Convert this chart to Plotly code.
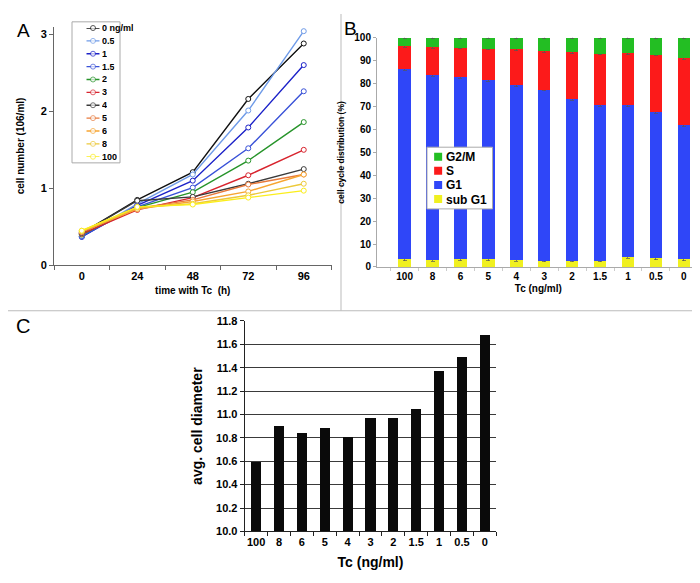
import plotly.graph_objects as go

W, H = 700, 583
def px(x): return x / W
def py(y): return 1 - y / H

FONT = "Liberation Sans, Arial, sans-serif"

# ---------------- Panel A data ----------------
times = ["0", "24", "48", "72", "96"]
doses_a = ["0 ng/ml", "0.5", "1", "1.5", "2", "3", "4", "5", "6", "8", "100"]
colors_a = ["#111111", "#6f9be8", "#1c22c8", "#3a52d8", "#27942a", "#d8242e",
            "#3a3a3a", "#e87a3c", "#f7a531", "#ecc93a", "#fbee1c"]
cells_0 = [0.42, 0.85, 1.21, 2.16, 2.88]
cells_05 = [0.37, 0.80, 1.18, 2.01, 3.04]
cells_1 = [0.37, 0.78, 1.10, 1.79, 2.60]
cells_15 = [0.38, 0.76, 1.01, 1.52, 2.26]
cells_2 = [0.40, 0.75, 0.95, 1.36, 1.86]
cells_3 = [0.41, 0.72, 0.88, 1.17, 1.50]
cells_4 = [0.42, 0.84, 0.89, 1.06, 1.25]
cells_5 = [0.43, 0.74, 0.85, 1.05, 1.18]
cells_6 = [0.44, 0.73, 0.83, 0.96, 1.18]
cells_8 = [0.45, 0.75, 0.80, 0.91, 1.06]
cells_100 = [0.45, 0.76, 0.79, 0.88, 0.97]
series_a = [cells_0, cells_05, cells_1, cells_15, cells_2, cells_3,
            cells_4, cells_5, cells_6, cells_8, cells_100]

# ---------------- Panel B data ----------------
doses_b = ["100", "8", "6", "5", "4", "3", "2", "1.5", "1", "0.5", "0"]
sub_g1 = [3.3, 3.0, 3.3, 3.3, 3.0, 2.7, 2.7, 2.7, 4.4, 3.7, 3.3]
g1 = [83.2, 80.8, 79.7, 78.2, 76.3, 74.6, 70.6, 67.9, 66.2, 63.9, 58.5]
s_phase = [9.9, 12.2, 12.7, 13.7, 15.6, 17.0, 20.3, 22.4, 22.6, 25.0, 29.2]
g2m = [3.6, 4.0, 4.3, 4.8, 5.1, 5.7, 6.4, 7.0, 6.8, 7.4, 9.0]
err_sub_g1 = [0.6, 0.5, 0.6, 0.6, 0.5, 0.5, 0.5, 0.5, 0.6, 0.6, 0.6]
err_g1 = [0.6, 0.5, 0.6, 0.5, 0.6, 0.5, 0.6, 0.5, 0.6, 0.6, 0.6]
err_s = [0.5, 0.5, 0.5, 0.5, 0.5, 0.5, 0.5, 0.5, 0.5, 0.5, 0.6]
err_g2m = [0.4, 0.4, 0.4, 0.4, 0.4, 0.4, 0.4, 0.4, 0.4, 0.4, 0.5]
phase_names = ["sub G1", "G1", "S", "G2/M"]
phase_colors = ["#f0f020", "#2f46f8", "#fc1a1a", "#23be23"]

# ---------------- Panel C data ----------------
doses_c = ["100", "8", "6", "5", "4", "3", "2", "1.5", "1", "0.5", "0"]
diameter = [10.59, 10.90, 10.84, 10.88, 10.81, 10.97, 10.97, 11.05, 11.37, 11.49, 11.68]

fig = go.Figure()

# Panel A lines
for name, vals, col in zip(doses_a, series_a, colors_a):
    fig.add_trace(go.Scatter(
        x=times, y=vals, name=name, mode="lines+markers",
        line=dict(color=col, width=1.4),
        marker=dict(symbol="circle", size=5, color="white",
                    line=dict(color=col, width=1)),
        xaxis="x", yaxis="y", showlegend=False))

# Panel A legend glyphs (hidden helper axis)
for i, (name, col) in enumerate(zip(doses_a, colors_a)):
    fig.add_trace(go.Scatter(
        x=[0, 1, 2], y=[i, i, i], mode="lines+markers",
        line=dict(color=col, width=1.4),
        marker=dict(symbol="circle", size=[0, 5, 0], color="white",
                    line=dict(color=col, width=[0, 1, 0])),
        xaxis="x4", yaxis="y4", showlegend=False, hoverinfo="skip",
        cliponaxis=False))

# Panel B stacked bars
for name, vals, err, col in zip(phase_names, [sub_g1, g1, s_phase, g2m],
                                [err_sub_g1, err_g1, err_s, err_g2m], phase_colors):
    fig.add_trace(go.Bar(
        x=doses_b, y=vals, name=name, marker=dict(color=col, line=dict(width=0)),
        width=0.45, xaxis="x2", yaxis="y2", showlegend=False,
        error_y=dict(type="data", array=err, color="#555555", thickness=0.7, width=2)))

# Panel C bars
fig.add_trace(go.Bar(
    x=doses_c, y=diameter, marker=dict(color="#0a0a0a", line=dict(width=0)),
    width=0.44, xaxis="x3", yaxis="y3", showlegend=False))

# helper subplot for legend B (keeps an anchor for the swatches)
fig.add_trace(go.Scatter(x=[0, 1], y=[0, 3], mode="markers", marker=dict(size=0, opacity=0),
                         xaxis="x5", yaxis="y5", showlegend=False, hoverinfo="skip"))

tick_bold = lambda s: dict(family=FONT, size=s, color="black", weight="bold")

annotations = [
    dict(text="A", x=px(15), y=py(17), xref="paper", yref="paper", showarrow=False,
         xanchor="center", yanchor="middle", font=dict(family=FONT, size=19, color="black")),
    dict(text="B", x=px(342), y=py(15), xref="paper", yref="paper", showarrow=False,
         xanchor="center", yanchor="middle", font=dict(family=FONT, size=19, color="black")),
    dict(text="C", x=px(15), y=py(319), xref="paper", yref="paper", showarrow=False,
         xanchor="center", yanchor="middle", font=dict(family=FONT, size=20, color="black")),
]
for i, name in enumerate(doses_a):
    annotations.append(dict(text=name, x=2, y=i, xref="x4", yref="y4", showarrow=False,
                            xanchor="left", yanchor="middle", height=12,
                            font=tick_bold(9)))
leg_names = phase_names[::-1]
leg_cols = phase_colors[::-1]
for i, name in enumerate(leg_names):
    annotations.append(dict(text=name, x=0.26, y=i, xref="x5", yref="y5", showarrow=False,
                            xanchor="left", yanchor="middle", height=13,
                            font=tick_bold(12)))

shapes = [
    # panel separators
    dict(type="line", xref="paper", yref="paper", x0=px(333), x1=px(333),
         y0=py(0), y1=py(303), line=dict(color="#bbbbbb", width=1)),
    dict(type="line", xref="paper", yref="paper", x0=0, x1=1,
         y0=py(303), y1=py(303), line=dict(color="#bbbbbb", width=1)),
    # legend A box
    dict(type="rect", xref="paper", yref="paper", x0=px(64), x1=px(112),
         y0=py(152), y1=py(8), line=dict(color="#aaaaaa", width=1), layer="below",
         fillcolor="white"),
    # legend B box (above the bars)
    dict(type="rect", xref="x5 domain", yref="y5 domain", x0=0, x1=1, y0=0, y1=1,
         line=dict(color="#aaaaaa", width=1), layer="above", fillcolor="white"),
]
for i, col in enumerate(leg_cols):
    shapes.append(dict(type="rect", xref="x5", yref="y5", layer="above",
                       xsizemode="pixel", xanchor=0.17, x0=-4, x1=4,
                       ysizemode="pixel", yanchor=i, y0=-4, y1=4,
                       fillcolor=col, line=dict(width=0)))

fig.update_layout(
    width=W, height=H, margin=dict(l=0, r=0, t=0, b=0),
    paper_bgcolor="white", plot_bgcolor="rgba(0,0,0,0)",
    font=dict(family=FONT, color="black"),
    barmode="stack",
    xaxis=dict(domain=[px(46), px(323.5)], type="category", range=[-0.5, 4.5],
               tickson="boundaries", ticks="outside", ticklen=4, tickcolor="#666",
               showline=True, linecolor="#666", linewidth=1, showgrid=False,
               tickfont=tick_bold(11), anchor="y", tickangle=0,
               title=dict(text="time with Tc  (h)", font=tick_bold(10), standoff=6)),
    yaxis=dict(domain=[py(256.7), py(12.8)], range=[0, 3.1], tickvals=[0, 1, 2, 3],
               ticks="outside", ticklen=4, tickcolor="#666", showline=True,
               linecolor="#666", linewidth=1, showgrid=False, zeroline=False,
               tickfont=tick_bold(11), anchor="x",
               title=dict(text="cell number (106/ml)", font=tick_bold(10), standoff=14)),
    xaxis2=dict(domain=[px(369), px(691.7)], type="category", range=[-0.99, 10.57],
                tickson="boundaries", ticks="outside", ticklen=3, tickcolor="#ccc",
                showline=True, linecolor="#aaa", linewidth=1, showgrid=False,
                tickfont=tick_bold(10), anchor="y2", tickangle=0,
                title=dict(text="Tc (ng/ml)", font=tick_bold(10), standoff=4)),
    yaxis2=dict(domain=[py(258.3), py(24.3)], range=[0, 100], dtick=10,
                ticks="outside", ticklen=3, tickcolor="#aaa", showline=True,
                linecolor="#aaa", linewidth=1, showgrid=False, zeroline=False,
                tickfont=tick_bold(10), anchor="x2",
                title=dict(text="cell cycle distribution (%)", font=tick_bold(8.5), standoff=8)),
    xaxis3=dict(domain=[px(236.7), px(488.3)], type="category", range=[-0.5, 10.5],
                tickson="boundaries", ticks="outside", ticklen=4, tickcolor="#222",
                showline=True, linecolor="#222", linewidth=1, showgrid=False,
                tickfont=tick_bold(11), anchor="y3", tickangle=0,
                title=dict(text="Tc (ng/ml)", font=tick_bold(14), standoff=10)),
    yaxis3=dict(domain=[py(528.3), py(313.3)], range=[10, 11.8], dtick=0.2,
                tickformat=".1f", ticks="outside", ticklen=4, tickcolor="#222",
                showline=True, linecolor="#222", linewidth=1, showgrid=True,
                gridcolor="#3a3a3a", gridwidth=1, zeroline=False,
                tickfont=tick_bold(11), anchor="x3",
                title=dict(text="avg. cell diameter", font=tick_bold(14), standoff=10)),
    xaxis4=dict(domain=[px(78.3), px(91.7)], range=[0, 2], visible=False, anchor="y4"),
    yaxis4=dict(domain=[py(145.7), py(14.3)], range=[10, 0], visible=False, anchor="x4"),
    xaxis5=dict(domain=[px(419), px(484.5)], range=[0, 1], visible=False, anchor="y5"),
    yaxis5=dict(domain=[py(199), py(136)], range=[3.693, -0.672], visible=False, anchor="x5"),
    shapes=shapes,
    annotations=annotations,
)

fig.write_html("out.html")
